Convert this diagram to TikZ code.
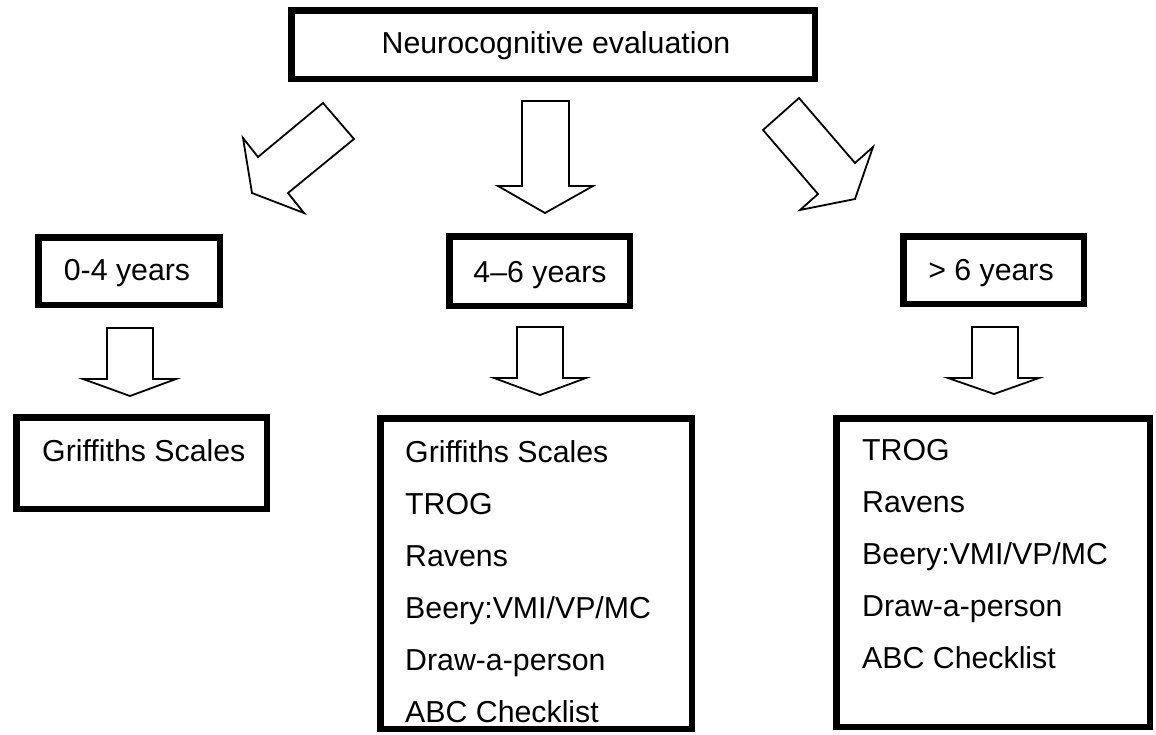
\documentclass[tikz,border=0pt]{standalone}
\usepackage{fontspec}
\setmainfont{Liberation Sans}
\begin{document}
\begin{tikzpicture}[x=1pt,y=-1pt,
  every node/.style={font=\fontsize{30.3}{35}\selectfont},
  box/.style={draw=black,line width=6.5pt,inner sep=0pt,fill=white},
  lbl/.style={inner sep=0pt,anchor=base},
  item/.style={inner sep=0pt,anchor=base west},
  blockarrow/.style={draw=black,line width=1.8pt,fill=white,line join=miter}]
\useasboundingbox (0,0) rectangle (1156,734);
\fill[white] (0,0) rectangle (1156,734);
% boxes
\node[box,minimum width=523.5pt,minimum height=68.5pt] (top) at (553,44.5) {};
\node[lbl] (toptext) at (556,53) {Neurocognitive evaluation};
\node[box,minimum width=181.5pt,minimum height=67.5pt] (age1) at (129,271) {};
\node[lbl] (age1text) at (127,280) {0-4 years};
\node[box,minimum width=180.5pt,minimum height=69.5pt] (age2) at (539.5,271) {};
\node[lbl] (age2text) at (540,282) {4--6 years};
\node[box,minimum width=180.5pt,minimum height=67.5pt] (age3) at (993.5,270) {};
\node[lbl] (age3text) at (991,280) {> 6 years};
\node[box,minimum width=250.5pt,minimum height=91.5pt] (res1) at (141.5,463) {};
\node[box,minimum width=311.5pt,minimum height=310.5pt] (res2) at (536,573.5) {};
\node[box,minimum width=313.5pt,minimum height=308.5pt] (res3) at (993,572.5) {};
% items
\node[item] (r1a) at (42,461) {Griffiths Scales};
\node[item] (r2a) at (405,462) {Griffiths Scales};
\node[item] (r2b) at (405,514) {TROG};
\node[item] (r2c) at (405,566) {Ravens};
\node[item] (r2d) at (405,618) {Beery:VMI/VP/MC};
\node[item] (r2e) at (405,670) {Draw-a-person};
\node[item] (r2f) at (405,722) {ABC Checklist};
\node[item] (r3a) at (862,460) {TROG};
\node[item] (r3b) at (862,512) {Ravens};
\node[item] (r3c) at (862,564) {Beery:VMI/VP/MC};
\node[item] (r3d) at (862,616) {Draw-a-person};
\node[item] (r3e) at (862,668) {ABC Checklist};
% block arrows
\draw[blockarrow] (323,103) -- (354,139) -- (288,193) -- (304,213) -- (252,193) -- (243,138) -- (258,157) -- cycle;
\draw[blockarrow] (522,101) -- (569,101) -- (569,186) -- (593,186) -- (545,213) -- (498,186) -- (522,186) -- cycle;
\draw[blockarrow] (799,98) -- (763,130) -- (818,194) -- (800,210) -- (855,199) -- (873,147) -- (855,163) -- cycle;
\draw[blockarrow] (107,328) -- (153,328) -- (153,379) -- (176,379) -- (130,396) -- (83,379) -- (107,379) -- cycle;
\draw[blockarrow] (517,327) -- (563,327) -- (563,378) -- (586,378) -- (540,395) -- (494,378) -- (517,378) -- cycle;
\draw[blockarrow] (972,327) -- (1018,327) -- (1018,378) -- (1039,378) -- (994,394) -- (948,378) -- (972,378) -- cycle;
\end{tikzpicture}
\end{document}
